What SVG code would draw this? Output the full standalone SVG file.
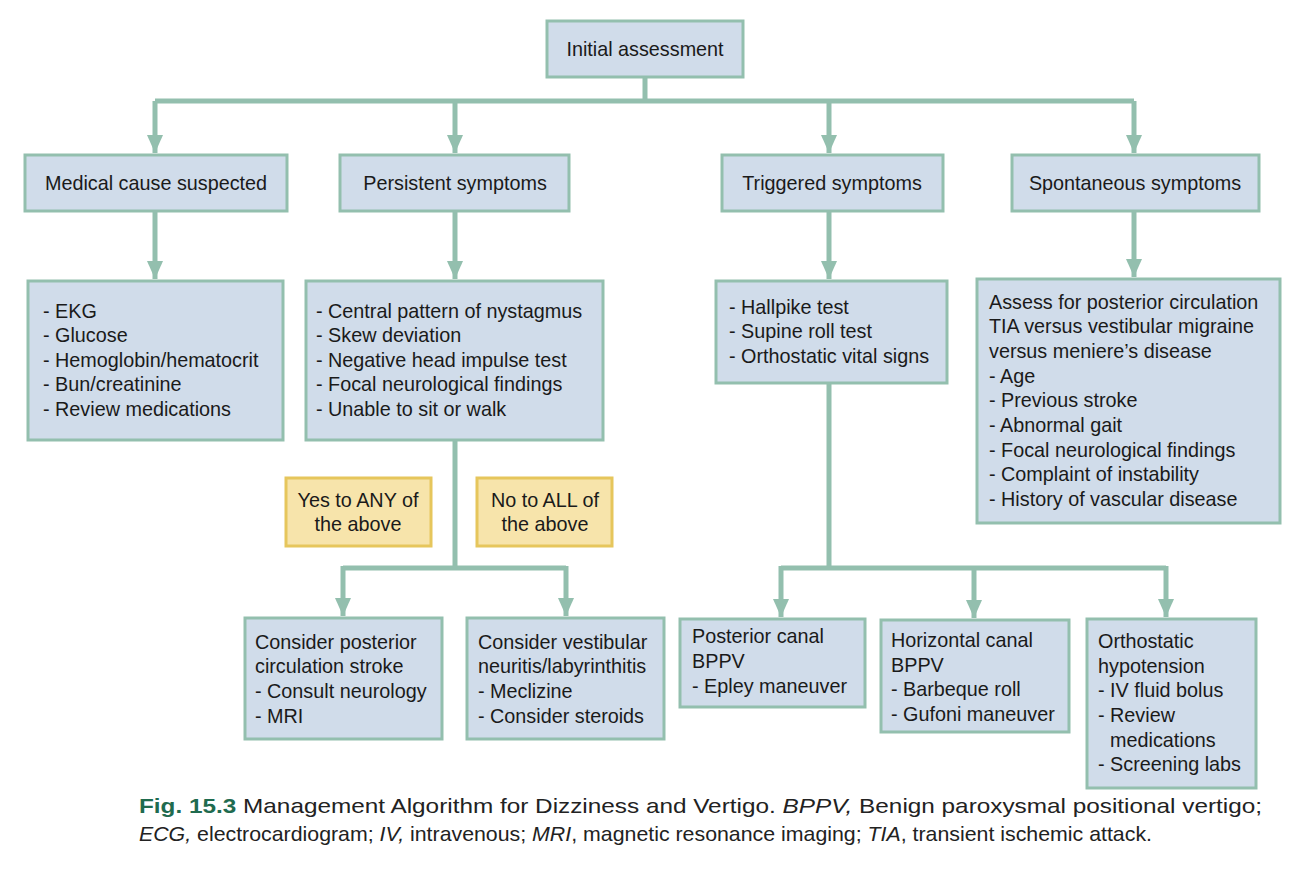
<svg xmlns="http://www.w3.org/2000/svg" width="1301" height="871" viewBox="0 0 1301 871">
<defs>
<marker id="ah" markerUnits="userSpaceOnUse" markerWidth="20" markerHeight="20" viewBox="0 0 20 20" refX="18" refY="10" orient="auto">
<path d="M0,2 L18,10 L0,18 Z" fill="#93bfae"/>
</marker>
<style>
.b{fill:#d0dcea;stroke:#93bfae;stroke-width:3}
.y{fill:#f7e4ab;stroke:#e6c65c;stroke-width:3}
.c{fill:none;stroke:#93bfae;stroke-width:5}
.a{fill:none;stroke:#93bfae;stroke-width:5;marker-end:url(#ah)}
text{font-family:"Liberation Sans",Arial,sans-serif;font-size:19.8px;fill:#1a1a1a}
.m{text-anchor:middle}
.cap{font-size:21px;fill:#222}
</style>
</defs>
<rect width="1301" height="871" fill="#fff"/>
<g id="connectors">
<path class="c" d="M645,77 V101 M155,101 H1134"/>
<path class="a" d="M155,101 V153"/>
<path class="a" d="M455,101 V153"/>
<path class="a" d="M829,101 V153"/>
<path class="a" d="M1134,101 V153"/>
<path class="a" d="M155,211 V279"/>
<path class="a" d="M455,211 V279"/>
<path class="a" d="M829,211 V279"/>
<path class="a" d="M1134,211 V277"/>
<path class="c" d="M455,440 V568 M343,568 H566"/>
<path class="a" d="M343,566 V616"/>
<path class="a" d="M566,566 V616"/>
<path class="c" d="M829,383 V568 M781,568 H1166"/>
<path class="a" d="M781,566 V617"/>
<path class="a" d="M974,566 V618"/>
<path class="a" d="M1166,566 V617"/>
</g>
<g id="n-initial"><rect class="b" x="547" y="21" width="196" height="56"/><text class="m" x="645" y="56">Initial assessment</text></g>
<g id="n-medical"><rect class="b" x="25" y="155" width="262" height="56"/><text class="m" x="156" y="190">Medical cause suspected</text></g>
<g id="n-persistent"><rect class="b" x="340" y="155" width="229" height="56"/><text class="m" x="455" y="190">Persistent symptoms</text></g>
<g id="n-triggered"><rect class="b" x="722" y="155" width="221" height="56"/><text class="m" x="832" y="190">Triggered symptoms</text></g>
<g id="n-spontaneous"><rect class="b" x="1012" y="155" width="247" height="56"/><text class="m" x="1135" y="190">Spontaneous symptoms</text></g>
<g id="n-medical-tests"><rect class="b" x="28" y="281" width="255" height="159"/>
<text x="43" y="318">- EKG</text><text x="43" y="342">- Glucose</text><text x="43" y="367">- Hemoglobin/hematocrit</text><text x="43" y="391">- Bun/creatinine</text><text x="43" y="416">- Review medications</text></g>
<g id="n-central"><rect class="b" x="306" y="281" width="297" height="159"/>
<text x="316" y="318">- Central pattern of nystagmus</text><text x="316" y="342">- Skew deviation</text><text x="316" y="367">- Negative head impulse test</text><text x="316" y="391">- Focal neurological findings</text><text x="316" y="416">- Unable to sit or walk</text></g>
<g id="n-hallpike"><rect class="b" x="716" y="281" width="231" height="102"/>
<text x="729" y="314">- Hallpike test</text><text x="729" y="338">- Supine roll test</text><text x="729" y="363">- Orthostatic vital signs</text></g>
<g id="n-assess"><rect class="b" x="977" y="279" width="303" height="244"/>
<text x="989" y="309">Assess for posterior circulation</text><text x="989" y="333">TIA versus vestibular migraine</text><text x="989" y="358">versus meniere’s disease</text><text x="989" y="383">- Age</text><text x="989" y="407">- Previous stroke</text><text x="989" y="432">- Abnormal gait</text><text x="989" y="457">- Focal neurological findings</text><text x="989" y="481">- Complaint of instability</text><text x="989" y="506">- History of vascular disease</text></g>
<g id="n-yes"><rect class="y" x="286" y="478" width="145" height="68"/><text class="m" x="358" y="507">Yes to ANY of</text><text class="m" x="358" y="531">the above</text></g>
<g id="n-no"><rect class="y" x="477" y="478" width="135" height="68"/><text class="m" x="545" y="507">No to ALL of</text><text class="m" x="545" y="531">the above</text></g>
<g id="n-stroke"><rect class="b" x="245" y="618" width="197" height="121"/>
<text x="255" y="649">Consider posterior</text><text x="255" y="673">circulation stroke</text><text x="255" y="698">- Consult neurology</text><text x="255" y="723">- MRI</text></g>
<g id="n-neuritis"><rect class="b" x="467" y="618" width="197" height="121"/>
<text x="478" y="649">Consider vestibular</text><text x="478" y="673">neuritis/labyrinthitis</text><text x="478" y="698">- Meclizine</text><text x="478" y="723">- Consider steroids</text></g>
<g id="n-posterior-canal"><rect class="b" x="680" y="619" width="185" height="88"/>
<text x="692" y="643">Posterior canal</text><text x="692" y="668">BPPV</text><text x="692" y="693">- Epley maneuver</text></g>
<g id="n-horizontal-canal"><rect class="b" x="881" y="620" width="188" height="112"/>
<text x="891" y="647">Horizontal canal</text><text x="891" y="672">BPPV</text><text x="891" y="696">- Barbeque roll</text><text x="891" y="721">- Gufoni maneuver</text></g>
<g id="n-orthostatic"><rect class="b" x="1087" y="619" width="169" height="169"/>
<text x="1098" y="648">Orthostatic</text><text x="1098" y="673">hypotension</text><text x="1098" y="697">- IV fluid bolus</text><text x="1098" y="722">- Review</text><text x="1110" y="747">medications</text><text x="1098" y="771">- Screening labs</text></g>
<g id="caption">
<text class="cap" x="139" y="813" textLength="1123" lengthAdjust="spacingAndGlyphs"><tspan font-weight="bold" fill="#1f6b4f">Fig. 15.3</tspan>  Management Algorithm for Dizziness and Vertigo. <tspan font-style="italic">BPPV,</tspan> Benign paroxysmal positional vertigo;</text>
<text class="cap" x="139" y="841" textLength="1013" lengthAdjust="spacingAndGlyphs"><tspan font-style="italic">ECG,</tspan> electrocardiogram; <tspan font-style="italic">IV,</tspan> intravenous; <tspan font-style="italic">MRI</tspan>, magnetic resonance imaging; <tspan font-style="italic">TIA</tspan>, transient ischemic attack.</text>
</g>
</svg>
